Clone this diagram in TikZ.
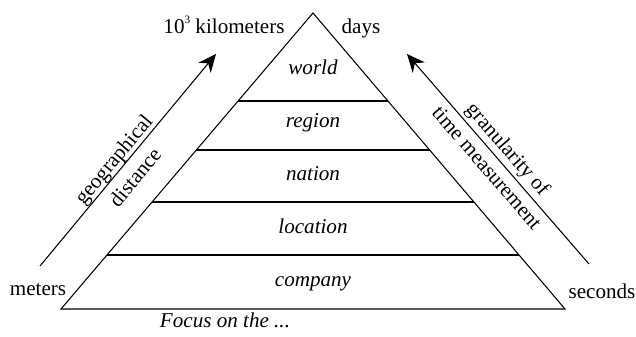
\documentclass[tikz,border=0pt]{standalone}
\usepackage{fontspec}
\setmainfont{Liberation Serif}
\usetikzlibrary{calc,arrows.meta}

\begin{document}
\begin{tikzpicture}[x=0.025cm,y=0.025cm,
        txt/.style={font=\fontsize{15}{20}\selectfont, inner sep=0pt},
        layer/.style={txt, font=\fontsize{15}{20}\selectfont\itshape, anchor=base},
        axis/.style={line width=0.75pt, -{Stealth[length=4.5mm,width=4mm]}}]
        \useasboundingbox (0,0) rectangle (636,336);

        % pyramid
        \coordinate (apex) at (313,323);
        \coordinate (bl) at (61,27);
        \coordinate (br) at (565,27);
        \draw[line width=0.75pt] (apex) -- (bl) -- (br) -- cycle;
        \foreach \lvl in {0.2973,0.4628,0.6385,0.8176}
            \draw[line width=0.75pt] ($(apex)!\lvl!(bl)$) -- ($(apex)!\lvl!(br)$);

        % layers
        \node[layer] (world) at (313,261) {world};
        \node[layer] (region) at (313,208) {region};
        \node[layer] (nation) at (313,156) {nation};
        \node[layer] (location) at (313,103) {location};
        \node[layer] (company) at (313,50) {company};
        \node[txt, font=\fontsize{15}{20}\selectfont\itshape] (focus) at (225,16) {Focus on the ...};

        % left axis
        \node[txt, anchor=base] (km) at (224,302) {10\raisebox{1.1ex}{\fontsize{8}{8}\selectfont 3} kilometers};
        \node[txt, anchor=base] (meters) at (38,41) {meters};
        \coordinate (geo start) at (40,70);
        \coordinate (geo end) at (216,282);
        \draw[axis] (geo start) -- (geo end);
        \node[txt, align=center, rotate=50.3] (geo) at (124,168) {geographical\\distance};

        % right axis
        \node[txt, anchor=base] (days) at (361,302) {days};
        \node[txt, anchor=base] (seconds) at (602,38) {seconds};
        \coordinate (time start) at (589,72);
        \coordinate (time end) at (407,282);
        \draw[axis] (time start) -- (time end);
        \node[txt, align=center, rotate=-49.1] (gran) at (498,178) {granularity of\\time measurement};
    \end{tikzpicture}
\end{document}
